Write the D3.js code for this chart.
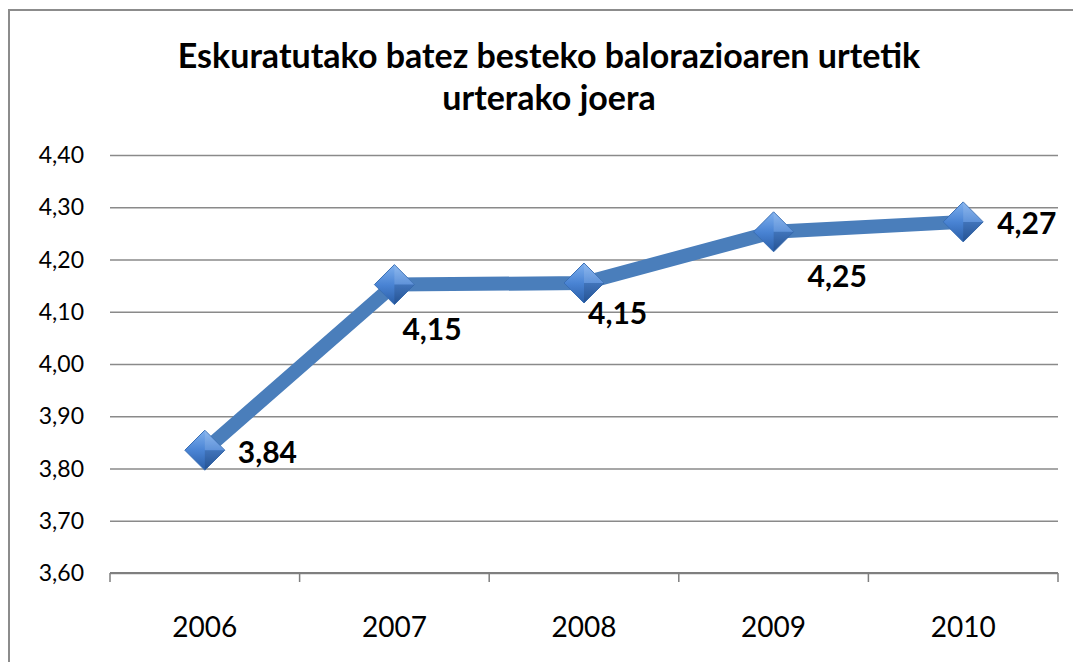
<!DOCTYPE html>
<html>
<head>
<meta charset="utf-8">
<script src="https://cdn.jsdelivr.net/npm/d3@7"></script>
<style>
  html, body { margin: 0; padding: 0; background: #fff; }
  svg { display: block; font-family: Lato, "Open Sans", sans-serif; }
</style>
</head>
<body>
<div id="chart"></div>
<script>
// Data
const years = ["2006", "2007", "2008", "2009", "2010"];
const values = [3.835, 4.152, 4.155, 4.253, 4.272];
const valueLabels = ["3,84", "4,15", "4,15", "4,25", "4,27"];
const yTicks = [3.6, 3.7, 3.8, 3.9, 4.0, 4.1, 4.2, 4.3, 4.4];
const titleLines = ["Eskuratutako batez besteko balorazioaren urtetik", "urterako joera"];
// label placement relative to the marker (dx, dy)
const labelOffsets = [[33, 2], [8, 45], [4, 30], [34, 45], [34, 2]];

const width = 1073, height = 662;
const margin = { top: 155, right: 15, bottom: 89, left: 110 };

const svg = d3.select("#chart").append("svg")
    .attr("width", width)
    .attr("height", height);

// Frame (left + top edges visible)
svg.append("path")
    .attr("d", `M9,${height} V10 H${width}`)
    .attr("fill", "none")
    .attr("stroke", "#8c8c8c")
    .attr("stroke-width", 2);

// Title
svg.append("text")
    .attr("text-anchor", "middle")
    .attr("font-weight", "bold")
    .attr("font-size", 34)
    .attr("fill", "#000")
    .selectAll("tspan")
    .data(titleLines)
    .join("tspan")
    .attr("x", 549)
    .attr("y", (d, i) => 68 + i * 42)
    .text(d => d);

const plotW = width - margin.left - margin.right;
const plotH = height - margin.top - margin.bottom;

const g = svg.append("g").attr("transform", `translate(${margin.left},${margin.top})`);

const x = d3.scaleBand().domain(years).range([0, plotW]);
const y = d3.scaleLinear().domain([3.6, 4.4]).range([plotH, 0]);

// Horizontal grid
g.append("g")
    .call(d3.axisLeft(y).tickValues(yTicks).tickSize(-plotW).tickFormat(""))
    .call(s => s.select(".domain").remove())
    .selectAll("line")
    .attr("stroke", "#8a8a8a")
    .attr("stroke-width", 1.5);

// Y labels
g.append("g")
    .selectAll("text")
    .data(yTicks)
    .join("text")
    .attr("x", -26)
    .attr("y", d => y(d))
    .attr("dy", "0.35em")
    .attr("text-anchor", "end")
    .attr("font-size", 23)
    .attr("fill", "#000")
    .text(d => d3.format(".2f")(d).replace(".", ","));

// X axis line + ticks at band edges
g.append("line")
    .attr("x1", 0).attr("x2", plotW)
    .attr("y1", plotH).attr("y2", plotH)
    .attr("stroke", "#7f7f7f")
    .attr("stroke-width", 2);

const edges = years.map(d => x(d)).concat([plotW]);
g.append("g")
    .selectAll("line")
    .data(edges)
    .join("line")
    .attr("x1", d => d).attr("x2", d => d)
    .attr("y1", plotH).attr("y2", plotH + 9)
    .attr("stroke", "#7f7f7f")
    .attr("stroke-width", 1.5);

// X labels
g.append("g")
    .selectAll("text")
    .data(years)
    .join("text")
    .attr("x", d => x(d) + x.bandwidth() / 2)
    .attr("y", plotH + 64)
    .attr("text-anchor", "middle")
    .attr("font-size", 28)
    .attr("fill", "#000")
    .text(d => d);

// Gradients for markers
const defs = svg.append("defs");
const grad = defs.append("linearGradient")
    .attr("id", "diamond-grad")
    .attr("x1", "0%").attr("y1", "0%")
    .attr("x2", "0%").attr("y2", "100%");
grad.append("stop").attr("offset", "0%").attr("stop-color", "#7fb0ee");
grad.append("stop").attr("offset", "50%").attr("stop-color", "#4a84d4");
grad.append("stop").attr("offset", "100%").attr("stop-color", "#2a5ea8");

const pts = years.map((d, i) => ({ year: d, value: values[i], label: valueLabels[i], off: labelOffsets[i] }));
const cx = d => x(d.year) + x.bandwidth() / 2;

// Line
const line = d3.line()
    .x(cx)
    .y(d => y(d.value));

g.append("path")
    .datum(pts)
    .attr("fill", "none")
    .attr("stroke", "#4a7ebb")
    .attr("stroke-width", 14)
    .attr("stroke-linejoin", "round")
    .attr("d", line);

// Markers
const r = 20;
const markers = g.append("g")
    .selectAll("g")
    .data(pts)
    .join("g")
    .attr("transform", d => `translate(${cx(d)},${y(d.value)})`);

markers.append("path")
    .attr("d", `M0,${-r} L${r},0 L0,${r} L${-r},0 Z`)
    .attr("fill", "url(#diamond-grad)")
    .attr("stroke", "#3a6fb5")
    .attr("stroke-width", 1);

// bevel facets
markers.append("path")
    .attr("d", `M0,${-r} L${r},0 L0,0 Z`)
    .attr("fill", "#ffffff")
    .attr("opacity", 0.12);
markers.append("path")
    .attr("d", `M0,0 L${r},0 L0,${r} Z`)
    .attr("fill", "#000")
    .attr("opacity", 0.12);

// Data labels
g.append("g")
    .selectAll("text")
    .data(pts)
    .join("text")
    .attr("x", d => cx(d) + d.off[0])
    .attr("y", d => y(d.value) + d.off[1])
    .attr("dy", "0.35em")
    .attr("font-size", 30)
    .attr("font-weight", "bold")
    .attr("fill", "#000")
    .text(d => d.label);
</script>
</body>
</html>
